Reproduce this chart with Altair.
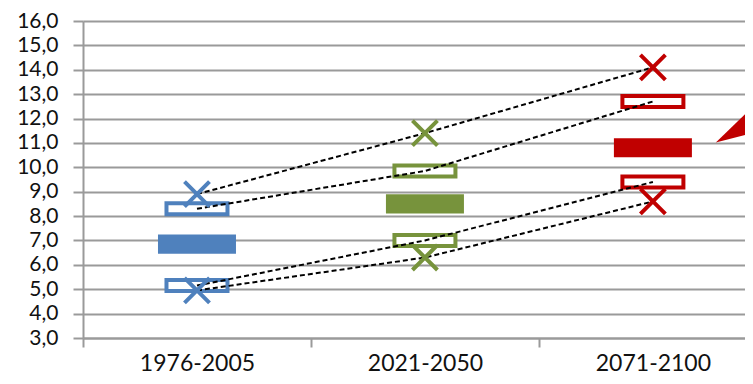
import json
import altair as alt
import pandas as pd

# ---- data ----
periods = ["1976-2005", "2021-2050", "2071-2100"]
colors = ["#4F81BD", "#77933C", "#C00000"]
max_vals = [8.9, 11.4, 14.1]
upper_vals = [8.3, 9.85, 12.7]
median_vals = [6.85, 8.5, 10.8]
lower_vals = [5.15, 7.0, 9.4]
min_vals = [4.95, 6.3, 8.6]
y_ticks = list(range(3, 17))
x_ticks = [0, 0.5, 1, 1.5, 2, 2.5]
callout_x = [2.776, 2.904]
callout_top = [11.02, 12.18]
callout_bottom = [11.02, 11.32]

stats = {"max": max_vals, "upper": upper_vals, "median": median_vals,
         "lower": lower_vals, "min": min_vals}
rows = []
for i, p in enumerate(periods):
    for s, vals in stats.items():
        rows.append({"period": p, "pos": i + 0.5, "stat": s, "value": vals[i]})
df = pd.DataFrame(rows)
df_call = pd.DataFrame({"pos": callout_x, "value": callout_top, "value2": callout_bottom})

FONT = "Lato"
GRID = "#9a9a9a"
X_DOMAIN = [0, 2.904]

label_expr_x = ("datum.value % 1 === 0 ? '' : " + json.dumps(periods) + "[floor(datum.value)]")

x_axis = alt.Axis(values=x_ticks, labelExpr=label_expr_x, title=None, grid=False,
                  tickSize=9, tickWidth=2, tickColor=GRID,
                  tickOpacity={"condition": {"test": "datum.value % 1 === 0", "value": 1}, "value": 0},
                  domainColor=GRID, domainWidth=2, labelFont=FONT, labelFontSize=23,
                  labelColor="#111111", labelPadding=5, labelOverlap=False, labelFlush=False)
y_axis = alt.Axis(values=y_ticks, labelExpr="replace(format(datum.value, '.1f'), '.', ',')",
                  title=None, grid=True, gridColor=GRID, gridWidth=2,
                  tickSize=10, tickWidth=2, tickColor=GRID, domainColor=GRID, domainWidth=2,
                  labelFont=FONT, labelFontSize=21, labelColor="#111111", labelPadding=15,
                  labelOverlap=False)

xs = alt.Scale(domain=X_DOMAIN, nice=False, zero=False)
ys = alt.Scale(domain=[3, 16], nice=False, zero=False)
cscale = alt.Scale(domain=periods, range=colors)

X = alt.X("pos:Q", scale=xs, axis=x_axis)
Y = alt.Y("value:Q", scale=ys, axis=y_axis)

base = alt.Chart(df)

callout = alt.Chart(df_call).mark_area(color="#C00000", clip=True, opacity=1).encode(
    x=X, y=Y, y2="value2:Q")

BOX_HOLLOW = "M-1,-0.18L1,-0.18L1,0.18L-1,0.18Z"
BOX_FILLED = "M-1,-0.244L1,-0.244L1,0.244L-1,0.244Z"
X_PATH = "M-1,-1L1,1M-1,1L1,-1"

hollow = base.transform_filter("datum.stat === 'upper' || datum.stat === 'lower'").mark_point(
    shape=BOX_HOLLOW, size=3721, filled=True, fill="white", strokeWidth=4, opacity=1
).encode(x=X, y=Y, stroke=alt.Stroke("period:N", scale=cscale, legend=None))

filled = base.transform_filter("datum.stat === 'median'").mark_point(
    shape=BOX_FILLED, size=6084, filled=True, strokeWidth=0, opacity=1
).encode(x=X, y=Y, color=alt.Color("period:N", scale=cscale, legend=None))

lines = base.transform_filter("datum.stat !== 'median'").mark_line(
    color="black", strokeDash=[5, 3], strokeWidth=2
).encode(x=X, y=Y, detail="stat:N")

crosses = base.transform_filter("datum.stat === 'max' || datum.stat === 'min'").mark_point(
    shape=X_PATH, size=625, filled=False, strokeWidth=4, opacity=1
).encode(x=X, y=Y, color=alt.Color("period:N", scale=cscale, legend=None))

chart = alt.layer(callout, hollow, filled, lines, crosses).properties(
    width=662, height=317,
    autosize=alt.AutoSizeParams(type="none"),
    padding={"left": 75, "top": 13, "right": 0, "bottom": 38},
    background="white",
).configure_view(stroke=None)

chart.save("out.html", embed_options={"renderer": "svg", "actions": False})
